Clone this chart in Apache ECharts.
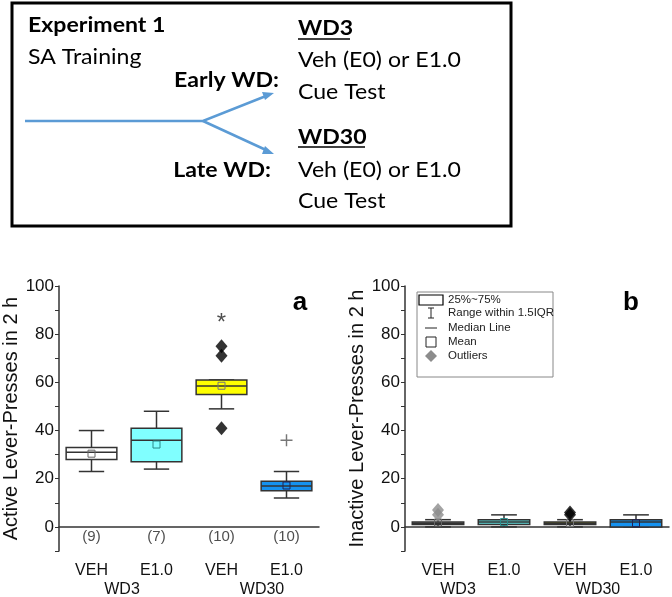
<!DOCTYPE html>
<html>
<head>
<meta charset="utf-8">
<script src="https://cdn.jsdelivr.net/npm/echarts@6/dist/echarts.min.js"></script>
<style>
  html, body { margin: 0; padding: 0; background: #fff; }
  #chart { width: 672px; height: 597px; }
</style>
</head>
<body>
<div id="chart"></div>
<script>
// categories
const groups = ['VEH', 'E1.0', 'VEH', 'E1.0'];
const yTicks = [0, 20, 40, 60, 80, 100];
const yMinorTicks = [-10, 0, 10, 20, 30, 40, 50, 60, 70, 80, 90, 100];

// panel a: active lever presses  [min, q1, median, q3, max]
const activeBox = [[23, 28, 31, 33, 40], [24, 27, 36, 41, 48], [49, 55, 58.5, 61, 61], [12, 15, 17, 19, 23]];
const activeMean = [30.4, 34.2, 58.6, 17.2];
const activeOutliers = [[2, 75], [2, 71], [2, 41]];
const activePlus = [[3, 36]];
const activeStar = [[2, 86]];
const activeN = ['(9)', '(7)', '(10)', '(10)'];

// panel b: inactive lever presses
const inactiveBox = [[0, 1, 1.5, 2, 3], [0, 1, 2, 3, 5], [0, 1, 1.5, 2, 3], [0, 0, 2, 3, 5]];
const inactiveMean = [1.8, 2, 1.6, 1.5];
const inactiveOutliersGrey = [[0, 5], [0, 7]];
const inactiveOutliersBlack = [[2, 5], [2, 6]];

const activeFill = ['#ffffff', '#80ffff', '#ffff00', '#1592f0'];
const inactiveFill = ['#a9a9a9', '#5fdada', '#b4b400', '#1592f0'];
const meanColor = ['#666', '#2a8a8a', '#777', '#225'];

const FONT = 'Liberation Sans, Arial, sans-serif';
const TFONT = 'Lato, Open Sans, sans-serif';

function boxData(box, mean) {
  return box.map((b, i) => [i].concat(b, [mean[i]]));
}

function renderBox(fills) {
  return function (params, api) {
    const i = api.value(0);
    const w = api.size([1, 0])[0] * 0.78;
    const cap = w / 2;
    const pMin = api.coord([i, api.value(1)]);
    const pQ1 = api.coord([i, api.value(2)]);
    const pMed = api.coord([i, api.value(3)]);
    const pQ3 = api.coord([i, api.value(4)]);
    const pMax = api.coord([i, api.value(5)]);
    const pMean = api.coord([i, api.value(6)]);
    const cx = pMin[0];
    const lc = '#333';
    const ls = { stroke: lc, lineWidth: 1.5 };
    return {
      type: 'group',
      children: [
        { type: 'line', shape: { x1: cx, y1: pMin[1], x2: cx, y2: pQ1[1] }, style: ls },
        { type: 'line', shape: { x1: cx, y1: pQ3[1], x2: cx, y2: pMax[1] }, style: ls },
        { type: 'line', shape: { x1: cx - cap / 2, y1: pMin[1], x2: cx + cap / 2, y2: pMin[1] }, style: ls },
        { type: 'line', shape: { x1: cx - cap / 2, y1: pMax[1], x2: cx + cap / 2, y2: pMax[1] }, style: ls },
        { type: 'rect', shape: { x: cx - w / 2, y: pQ3[1], width: w, height: Math.max(pQ1[1] - pQ3[1], 1) },
          style: { fill: fills[i], stroke: lc, lineWidth: 1.5 } },
        { type: 'line', shape: { x1: cx - w / 2, y1: pMed[1], x2: cx + w / 2, y2: pMed[1] }, style: ls },
        { type: 'rect', shape: { x: cx - 3.5, y: pMean[1] - 3.5, width: 7, height: 7 },
          style: { fill: 'none', stroke: meanColor[i], lineWidth: 1 } }
      ]
    };
  };
}

function xAxis(idx) {
  return {
    type: 'category', gridIndex: idx, data: groups, boundaryGap: true,
    axisLine: { lineStyle: { color: '#333', width: 1.5 } },
    axisTick: { alignWithLabel: true, length: 4, lineStyle: { color: '#333' } },
    axisLabel: { fontFamily: FONT, fontSize: 16, color: '#111', margin: 12 }
  };
}

function yAxis(idx, name) {
  return {
    type: 'value', gridIndex: idx, min: -10, max: 100,
    name: name, nameLocation: 'middle', nameGap: idx === 0 ? 38 : 35,
    nameTextStyle: { fontFamily: FONT, fontSize: 20, color: '#111' },
    axisLine: { show: true, lineStyle: { color: '#333', width: 1.5 } },
    axisTick: { show: true, customValues: yMinorTicks, length: 4, lineStyle: { color: '#333' } },
    axisLabel: { customValues: yTicks, fontFamily: FONT, fontSize: 17, color: '#111', margin: 5 },
    splitLine: { show: false }
  };
}

const diamond = { symbol: 'diamond', symbolSize: [12, 14] };
const plusPath = 'path://M4.4,0H5.6V4.4H10V5.6H5.6V10H4.4V5.6H0V4.4H4.4Z';

function ttext(x, y, text, bold, align) {
  return {
    type: 'text', x: x, y: y, scaleX: 1.1,
    style: { text: text, font: (bold ? 'bold ' : '') + '21px ' + TFONT, fill: '#000',
      align: align || 'left', verticalAlign: 'middle' }
  };
}

function ltext(y, text) {
  return { type: 'text', x: 448, y: y, z: 11,
    style: { text: text, font: '11.5px ' + FONT, fill: '#222', verticalAlign: 'middle' } };
}

const chart = echarts.init(document.getElementById('chart'));
chart.setOption({
  backgroundColor: '#fff',
  animation: false,
  grid: [
    { left: 55, right: 353, top: 286, bottom: 46 },
    { left: 405, right: 3, top: 286, bottom: 46 }
  ],
  xAxis: [xAxis(0), xAxis(1)],
  yAxis: [yAxis(0, 'Active Lever-Presses in 2 h'), yAxis(1, 'Inactive Lever-Presses in 2 h')],
  series: [
    { type: 'custom', xAxisIndex: 0, yAxisIndex: 0, renderItem: renderBox(activeFill),
      data: boxData(activeBox, activeMean), z: 2 },
    { type: 'scatter', xAxisIndex: 0, yAxisIndex: 0, data: activeOutliers, ...diamond,
      itemStyle: { color: '#000' }, z: 3 },
    { type: 'scatter', xAxisIndex: 0, yAxisIndex: 0, data: activePlus, symbol: plusPath, symbolSize: 12,
      itemStyle: { color: '#555' }, z: 3 },
    { type: 'scatter', xAxisIndex: 0, yAxisIndex: 0, data: activeStar, symbolSize: 0,
      label: { show: true, position: 'inside', formatter: '*', fontFamily: FONT, fontSize: 24, color: '#222', offset: [0, 4] } },
    { type: 'scatter', xAxisIndex: 0, yAxisIndex: 0, symbolSize: 0,
      data: activeN.map((t, i) => [i, -4, t]),
      label: { show: true, position: 'inside', formatter: p => p.value[2], fontFamily: FONT, fontSize: 15, color: '#222' } },
    { type: 'custom', xAxisIndex: 1, yAxisIndex: 1, renderItem: renderBox(inactiveFill),
      data: boxData(inactiveBox, inactiveMean), z: 2 },
    { type: 'scatter', xAxisIndex: 1, yAxisIndex: 1, data: inactiveOutliersGrey, ...diamond,
      itemStyle: { color: '#8c8c8c' }, z: 3 },
    { type: 'scatter', xAxisIndex: 1, yAxisIndex: 1, data: inactiveOutliersBlack, ...diamond,
      itemStyle: { color: '#000' }, z: 3 }
  ],
  graphic: [
    // top diagram frame
    { type: 'rect', shape: { x: 12, y: 3, width: 499, height: 223 }, style: { fill: '#fff', stroke: '#000', lineWidth: 3 } },
    ttext(28, 25, 'Experiment 1', true),
    ttext(28, 57, 'SA Training', false),
    ttext(279, 80, 'Early WD:', true, 'right'),
    ttext(271, 170, 'Late WD:', true, 'right'),
    ttext(298, 28, 'WD3', true),
    { type: 'line', shape: { x1: 298, y1: 39, x2: 350, y2: 39 }, style: { stroke: '#000', lineWidth: 1.5 } },
    ttext(298, 60, 'Veh (E0) or E1.0', false),
    ttext(298, 92, 'Cue Test', false),
    ttext(298, 137, 'WD30', true),
    { type: 'line', shape: { x1: 298, y1: 147, x2: 365, y2: 147 }, style: { stroke: '#000', lineWidth: 1.5 } },
    ttext(298, 170, 'Veh (E0) or E1.0', false),
    ttext(298, 201, 'Cue Test', false),
    // arrows
    { type: 'polyline', shape: { points: [[25, 121], [203, 121], [266, 96]] }, style: { stroke: '#5b9bd5', lineWidth: 2.5, fill: 'none' } },
    { type: 'line', shape: { x1: 203, y1: 121, x2: 266, y2: 150 }, style: { stroke: '#5b9bd5', lineWidth: 2.5 } },
    { type: 'polygon', shape: { points: [[274, 93], [262, 92], [265, 100]] }, style: { fill: '#5b9bd5' } },
    { type: 'polygon', shape: { points: [[274, 154], [265, 146], [262, 154]] }, style: { fill: '#5b9bd5' } },
    // panel letters
    { type: 'text', x: 300, y: 303, style: { text: 'a', font: 'bold 26px ' + FONT, fill: '#000', align: 'center', verticalAlign: 'middle' } },
    { type: 'text', x: 631, y: 303, style: { text: 'b', font: 'bold 26px ' + FONT, fill: '#000', align: 'center', verticalAlign: 'middle' } },
    // group labels
    { type: 'text', x: 122, y: 590, style: { text: 'WD3', font: '16px ' + FONT, fill: '#111', align: 'center', verticalAlign: 'middle' } },
    { type: 'text', x: 262, y: 590, style: { text: 'WD30', font: '16px ' + FONT, fill: '#111', align: 'center', verticalAlign: 'middle' } },
    { type: 'text', x: 458, y: 590, style: { text: 'WD3', font: '16px ' + FONT, fill: '#111', align: 'center', verticalAlign: 'middle' } },
    { type: 'text', x: 598, y: 590, style: { text: 'WD30', font: '16px ' + FONT, fill: '#111', align: 'center', verticalAlign: 'middle' } },
    // legend in panel b
    { type: 'rect', shape: { x: 417, y: 292, width: 136, height: 85 }, style: { fill: '#fff', stroke: '#888', lineWidth: 1 }, z: 10 },
    { type: 'rect', shape: { x: 419, y: 295, width: 24, height: 10 }, style: { fill: '#fff', stroke: '#000', lineWidth: 1.2 }, z: 11 },
    { type: 'line', shape: { x1: 431, y1: 308, x2: 431, y2: 318 }, style: { stroke: '#222', lineWidth: 1 }, z: 11 },
    { type: 'line', shape: { x1: 428, y1: 308, x2: 434, y2: 308 }, style: { stroke: '#222', lineWidth: 1 }, z: 11 },
    { type: 'line', shape: { x1: 428, y1: 318, x2: 434, y2: 318 }, style: { stroke: '#222', lineWidth: 1 }, z: 11 },
    { type: 'line', shape: { x1: 425, y1: 328, x2: 437, y2: 328 }, style: { stroke: '#222', lineWidth: 1 }, z: 11 },
    { type: 'rect', shape: { x: 426, y: 337, width: 10, height: 10 }, style: { fill: '#fff', stroke: '#222', lineWidth: 1 }, z: 11 },
    { type: 'polygon', shape: { points: [[431, 350], [437, 356], [431, 362], [425, 356]] }, style: { fill: '#8c8c8c' }, z: 11 },
    ltext(300, '25%~75%'),
    ltext(313, 'Range within 1.5IQR'),
    ltext(328, 'Median Line'),
    ltext(342, 'Mean'),
    ltext(356, 'Outliers')
  ]
});
</script>
</body>
</html>
